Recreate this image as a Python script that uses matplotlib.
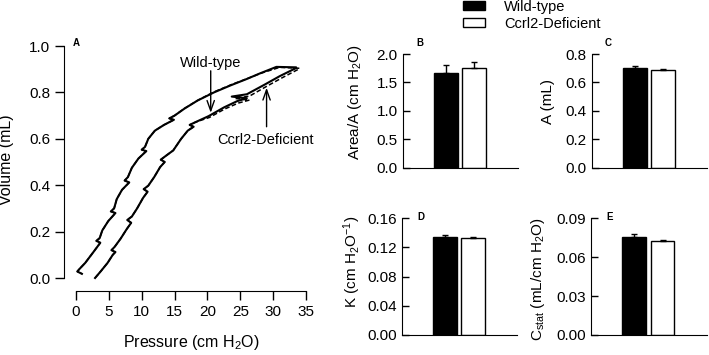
import numpy as np
import matplotlib.pyplot as plt
from matplotlib.patches import Patch

plt.rcParams['font.family'] = ['Liberation Sans', 'DejaVu Sans']
plt.rcParams['mathtext.fontset'] = 'custom'
plt.rcParams['mathtext.rm'] = 'Liberation Sans'
plt.rcParams['mathtext.it'] = 'Liberation Sans:italic'
plt.rcParams['font.size'] = 10.5

# PV loop (pressure cm H2O, volume mL), inflation then deflation
wt_infl_p = [2.9, 3.8, 4.8, 5.6, 6.0, 5.4, 5.9, 6.8, 7.7, 8.4, 7.8, 8.5, 9.3, 10.2, 10.9, 10.3, 11.0,
             11.9, 12.8, 13.5, 12.9, 13.6, 14.8, 16.0, 17.0, 17.9, 17.3, 18.2, 20.2, 22.5, 24.5, 26.0,
             23.7, 26.0, 28.8, 31.0, 33.5]
wt_infl_v = [0.000, 0.030, 0.065, 0.100, 0.112, 0.120, 0.135, 0.170, 0.210, 0.238, 0.250, 0.265, 0.300,
             0.345, 0.372, 0.383, 0.398, 0.435, 0.478, 0.500, 0.510, 0.525, 0.550, 0.600, 0.635, 0.652,
             0.660, 0.672, 0.698, 0.735, 0.762, 0.775, 0.782, 0.792, 0.835, 0.870, 0.905]
wt_defl_p = [33.5, 30.5, 28.0, 26.0, 23.5, 21.0, 18.5, 16.5, 15.0, 14.2, 14.9, 13.4, 12.0, 11.0, 10.5,
             10.0, 10.7, 9.5, 8.5, 7.9, 7.4, 8.1, 7.0, 6.2, 5.8, 5.3, 6.0, 4.9, 4.0, 3.6, 3.1, 3.7, 2.6,
             1.4, 0.5, 0.2, 0.9]
wt_defl_v = [0.908, 0.910, 0.882, 0.858, 0.830, 0.800, 0.765, 0.730, 0.700, 0.688, 0.682, 0.660, 0.635,
             0.600, 0.565, 0.553, 0.547, 0.515, 0.475, 0.435, 0.420, 0.412, 0.380, 0.340, 0.300, 0.287,
             0.280, 0.245, 0.205, 0.172, 0.160, 0.152, 0.110, 0.065, 0.038, 0.028, 0.018]

ko_infl_p = [2.9, 3.8, 4.8, 5.6, 6.0, 5.4, 5.9, 6.8, 7.7, 8.4, 7.8, 8.5, 9.3, 10.2, 10.9, 10.3, 11.0,
             11.9, 12.8, 13.5, 12.9, 13.6, 14.8, 16.0, 17.0, 17.9, 17.3, 18.2, 20.3, 22.6, 24.7, 26.4,
             24.2, 26.4, 29.0, 31.3, 34.0]
ko_infl_v = [0.000, 0.030, 0.065, 0.100, 0.112, 0.120, 0.135, 0.170, 0.210, 0.238, 0.250, 0.265, 0.300,
             0.345, 0.372, 0.383, 0.398, 0.435, 0.478, 0.500, 0.510, 0.525, 0.550, 0.600, 0.635, 0.652,
             0.660, 0.672, 0.692, 0.728, 0.754, 0.767, 0.774, 0.784, 0.826, 0.862, 0.902]
ko_defl_p = [34.0, 31.0, 28.3, 26.2, 23.6, 21.0, 18.6, 16.5, 15.0, 14.2, 14.9, 13.4, 12.0, 11.0, 10.5,
             10.0, 10.7, 9.5, 8.5, 7.9, 7.4, 8.1, 7.0, 6.2, 5.8, 5.3, 6.0, 4.9, 4.0, 3.6, 3.1, 3.7, 2.6,
             1.4, 0.5, 0.2, 0.9]
ko_defl_v = [0.904, 0.908, 0.884, 0.861, 0.833, 0.802, 0.767, 0.731, 0.700, 0.688, 0.682, 0.660, 0.635,
             0.600, 0.565, 0.553, 0.547, 0.515, 0.475, 0.435, 0.420, 0.412, 0.380, 0.340, 0.300, 0.287,
             0.280, 0.245, 0.205, 0.172, 0.160, 0.152, 0.110, 0.065, 0.038, 0.028, 0.018]

groups = ['Wild-type', 'Ccrl2-Deficient']
area_mean = [1.66, 1.75]
area_sem = [0.15, 0.11]
a_mean = [0.704, 0.688]
a_sem = [0.012, 0.007]
k_mean = [0.135, 0.133]
k_sem = [0.0015, 0.0015]
cstat_mean = [0.0758, 0.0725]
cstat_sem = [0.0018, 0.0008]

W, H = 709, 355
fig = plt.figure(figsize=(W / 100, H / 100), dpi=100)

def px_axes(left, right, bottom, top):
    return fig.add_axes([left / W, (H - bottom) / H, (right - left) / W, (bottom - top) / H])

# --- panel A ---
axA = px_axes(76, 306, 278, 46)
axA.plot(ko_infl_p + ko_defl_p, ko_infl_v + ko_defl_v, color='black', lw=1.1,
         dashes=(3, 1.6), clip_on=False)
axA.plot(wt_infl_p + wt_defl_p, wt_infl_v + wt_defl_v, color='black', lw=1.5, clip_on=False)
axA.set_xlim(0, 35)
axA.set_ylim(0, 1.0)
axA.set_xticks(np.arange(0, 36, 5))
axA.set_yticks(np.arange(0, 1.01, 0.2))
axA.set_yticklabels([f'{v:.1f}' for v in np.arange(0, 1.01, 0.2)])
axA.spines[['top', 'right']].set_visible(False)
axA.spines['left'].set_position(('outward', 8.6))
axA.spines['bottom'].set_position(('outward', 9.1))
axA.tick_params(direction='out', length=6.5, width=1, labelsize=11)
axA.set_xlabel('Pressure (cm H$_2$O)', fontsize=11.5, va='center')
axA.set_ylabel('Volume (mL)', fontsize=11.5, va='center')
axA.xaxis.set_label_coords(0.503, -0.28)
axA.yaxis.set_label_coords(-0.30, 0.51)
axA.text(0.003, 1.012, 'A', transform=axA.transAxes, fontsize=7, fontweight='bold',
         ha='center', va='center')

axA.annotate('', xy=(20.5, 0.70), xytext=(20.5, 0.905),
             arrowprops=dict(arrowstyle='->,head_length=0.7,head_width=0.25', lw=1, color='black'))
axA.text(20.5, 0.925, 'Wild-type', ha='center', va='center', fontsize=10.5)
axA.annotate('', xy=(29.0, 0.832), xytext=(29.0, 0.64),
             arrowprops=dict(arrowstyle='->,head_length=0.7,head_width=0.25', lw=1, color='black'))
axA.text(28.8, 0.595, 'Ccrl2-Deficient', ha='center', va='center', fontsize=10.5)

# --- bar panels ---
def bar_panel(ax, means, sems, ymax, ticks, fmt, label, letter, lab_xy, letter_xy):
    x = np.arange(len(means))
    ax.bar(x, means, width=0.835, color=['black', 'white'], edgecolor='black', linewidth=1)
    ax.errorbar(x, means, yerr=[[0] * len(sems), sems], fmt='none', ecolor='black',
                elinewidth=1, capsize=2.5, capthick=1)
    ax.set_xlim(-1.518, 2.553)
    ax.set_ylim(0, ymax)
    ax.set_yticks(ticks)
    ax.set_yticklabels([fmt.format(t) for t in ticks])
    ax.set_xticks([])
    ax.spines[['top', 'right']].set_visible(False)
    ax.tick_params(axis='y', direction='in', length=5, width=1, labelsize=11)
    ax.set_ylabel(label, fontsize=11, va='center')
    ax.yaxis.set_label_coords(*lab_xy)
    ax.text(letter_xy[0], letter_xy[1], letter, transform=ax.transAxes, fontsize=7,
            fontweight='bold', ha='center', va='center')

axB = px_axes(402.7, 518.3, 167.5, 54)
bar_panel(axB, area_mean, area_sem, 2.0, [0, 0.5, 1.0, 1.5, 2.0], '{:.1f}',
          'Area/A (cm H$_2$O)', 'B', (-0.41, 0.577), (0.15, 1.094))
axC = px_axes(591.7, 707.3, 167.5, 54)
bar_panel(axC, a_mean, a_sem, 0.8, [0, 0.2, 0.4, 0.6, 0.8], '{:.1f}',
          'A (mL)', 'C', (-0.375, 0.58), (0.144, 1.094))
axD = px_axes(401.7, 517.3, 335, 218.3)
bar_panel(axD, k_mean, k_sem, 0.16, [0, 0.04, 0.08, 0.12, 0.16], '{:.2f}',
          'K (cm H$_2$O$^{-1}$)', 'D', (-0.43, 0.626), (0.17, 1.01))
axE = px_axes(591, 706.6, 335, 218.3)
bar_panel(axE, cstat_mean, cstat_sem, 0.09, [0, 0.03, 0.06, 0.09], '{:.2f}',
          'C$_{\\mathrm{stat}}$ (mL/cm H$_2$O)', 'E', (-0.46, 0.48), (0.165, 1.01))

handles = [Patch(facecolor='black', edgecolor='black', lw=1),
           Patch(facecolor='white', edgecolor='black', lw=1)]
fig.legend(handles, groups, loc='upper left', bbox_to_anchor=(463.3 / W, 1.0),
           frameon=False, borderpad=0, borderaxespad=0, fontsize=10.5,
           handlelength=1.5, handleheight=0.55, handletextpad=1.3, labelspacing=0.2)

fig.savefig('out.png', dpi=100)
